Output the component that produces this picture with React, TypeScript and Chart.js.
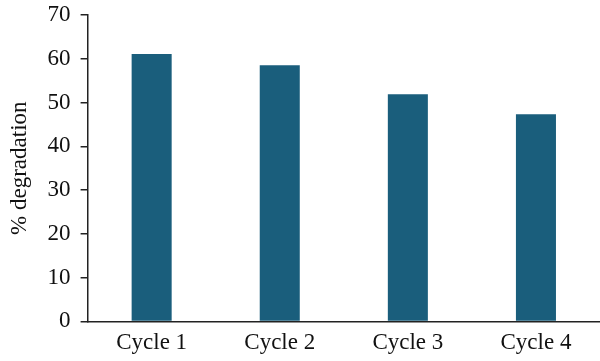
import React, { useEffect, useRef } from "react";
import { Chart, registerables } from "chart.js";

Chart.register(...registerables);

const categories = ["Cycle 1", "Cycle 2", "Cycle 3", "Cycle 4"];
const degradation = [61.1, 58.5, 51.9, 47.3];
const yTitle = "% degradation";
const yMin = 0;
const yMax = 70;
const yStep = 10;

export default function App() {
  const ref = useRef<HTMLCanvasElement | null>(null);
  useEffect(() => {
    document.body.style.margin = "0";
    const ctx = ref.current!;
    const font = { family: "'Liberation Serif', serif", size: 23 };
    const chart = new Chart(ctx, {
      type: "bar",
      data: {
        labels: categories,
        datasets: [
          {
            data: degradation,
            backgroundColor: "#1a5e7c",
            barPercentage: 0.3125,
            categoryPercentage: 1,
          },
        ],
      },
      options: {
        animation: false,
        responsive: false,
        maintainAspectRatio: false,
        layout: { padding: { top: 15, right: 0, bottom: -4, left: 2 } },
        plugins: { legend: { display: false }, tooltip: { enabled: false } },
        scales: {
          x: {
            grid: { display: false, drawTicks: false },
            border: { display: true, color: "#222", width: 1.5 },
            ticks: { font, color: "#111", padding: 8 },
          },
          y: {
            min: yMin,
            max: yMax,
            afterFit: (s: any) => {
              s.paddingTop = 0;
            },
            ticks: { stepSize: yStep, font, color: "#111", padding: 10 },
            grid: { drawOnChartArea: false, drawTicks: true, tickLength: 7, color: "#222", lineWidth: 1.5 },
            border: { display: true, color: "#222", width: 1.5 },
            title: { display: true, text: yTitle, font, color: "#111", padding: 4 },
          },
        },
      },
    });
    return () => chart.destroy();
  }, []);
  return <canvas ref={ref} width={600} height={361} style={{ display: "block" }} />;
}
